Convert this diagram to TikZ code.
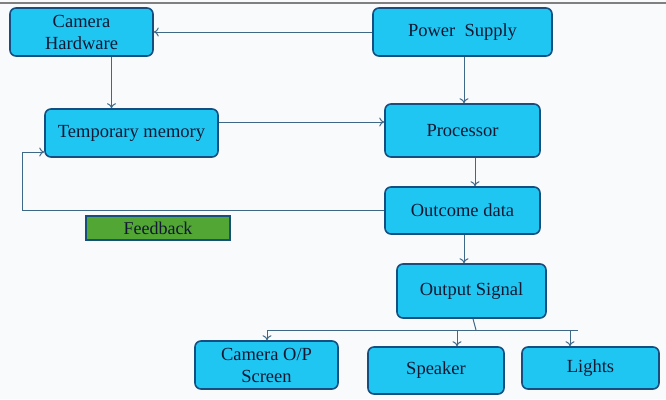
\documentclass[tikz,border=0pt]{standalone}
\usepackage{fontspec}
\setmainfont{Liberation Serif}
\usetikzlibrary{arrows.meta}
\definecolor{boxfill}{RGB}{32,198,242}
\definecolor{boxedge}{RGB}{22,78,128}
\definecolor{linec}{RGB}{62,104,134}
\definecolor{fbgreen}{RGB}{82,166,52}
\definecolor{txt}{RGB}{18,24,50}
\definecolor{bg}{RGB}{249,250,251}
\tikzset{
  x=1pt, y=-1pt,
  blk/.style={draw=boxedge, line width=1.6pt, fill=boxfill, rounded corners=6pt,
    align=center, inner sep=1pt, text=txt, font=\fontsize{18.5}{22}\selectfont},
  fbbox/.style={draw=boxedge, line width=1.4pt, fill=fbgreen, inner sep=0pt,
    text=txt, font=\fontsize{18}{20}\selectfont},
  arr/.style={draw=linec, line width=1pt, -{To[length=5pt,width=9pt]}},
  ln/.style={draw=linec, line width=1pt}
}
\begin{document}
\begin{tikzpicture}
\fill[bg] (0,0) rectangle (666,399);
\useasboundingbox (0,0) rectangle (666,399);
\draw[gray, line width=2pt] (0,3) -- (666,3);

\node[blk, minimum width=143pt, minimum height=48pt] (cam) at (81.5,32) {Camera\\Hardware};
\node[blk, minimum width=179pt, minimum height=48pt] (ps) at (462.5,32) {Power\ \ Supply};
\node[blk, minimum width=173pt, minimum height=48pt] (tm) at (131.5,133) {Temporary memory};
\node[blk, minimum width=155pt, minimum height=53pt] (proc) at (462.5,130.5) {Processor};
\node[blk, minimum width=155pt, minimum height=47pt] (od) at (462.5,210.5) {Outcome data};
\node[fbbox, minimum width=144pt, minimum height=24pt] (fb) at (158,228) {Feedback};
\node[blk, minimum width=149pt, minimum height=54pt] (os) at (471.5,291) {Output Signal};
\node[blk, minimum width=143pt, minimum height=48pt] (scr) at (266.5,365) {Camera O/P\\Screen};
\node[blk, minimum width=136pt, minimum height=47pt] (spk) at (436,370.5) {Speaker};
\node[blk, minimum width=137pt, minimum height=42pt] (li) at (590.5,368) {Lights};

\coordinate (fbc) at (22,152);
\coordinate (bj) at (476,330);
\coordinate (bl) at (267,330);
\coordinate (br) at (578,330);
\coordinate (bs) at (457,330);
\coordinate (bli) at (570,330);

\draw[arr] (ps.west) -- (cam.east);
\draw[arr] ([xshift=30pt]cam.south) -- ([xshift=30pt]cam.south |- tm.north);
\draw[arr] ([xshift=1.5pt]ps.south) -- ([xshift=1.5pt]ps.south |- proc.north);
\draw[arr] ([yshift=11pt]tm.east) -- ([yshift=11pt]tm.east -| proc.west);
\draw[arr] ([xshift=12.5pt]proc.south) -- ([xshift=12.5pt]proc.south |- od.north);
\draw[arr] (od.west) -| (fbc) -- ([yshift=-19pt]tm.west);
\draw[arr] ([xshift=1.5pt]od.south) -- ([xshift=1.5pt]od.south |- os.north);
\draw[ln] ([xshift=1.5pt]os.south) -- (bj);
\draw[ln] (bl) -- (br);
\draw[arr] (bl) -- (bl |- scr.north);
\draw[arr] (bs) -- (bs |- spk.north);
\draw[arr] (bli) -- (bli |- li.north);
\end{tikzpicture}
\end{document}
